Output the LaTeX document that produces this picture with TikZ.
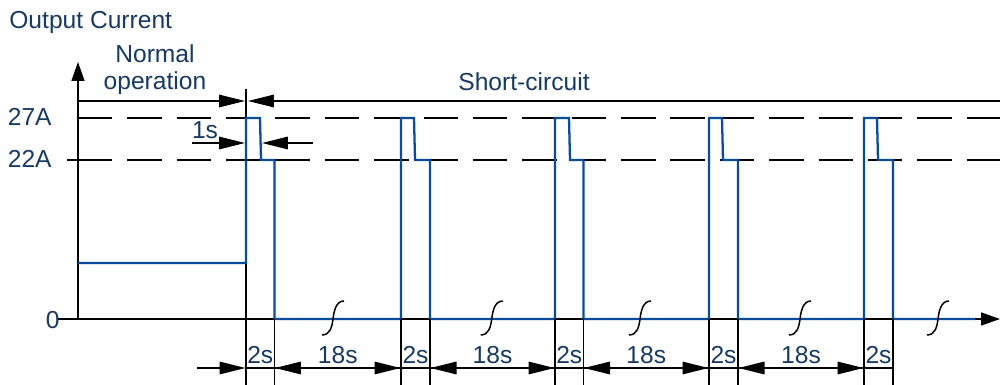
\documentclass[tikz,border=0pt]{standalone}
\usepackage{fontspec}
\setmainfont{Liberation Sans}
\usetikzlibrary{arrows.meta}
\definecolor{txtnavy}{HTML}{173A64}
\definecolor{wave}{HTML}{0A4C9C}
\begin{document}
\begin{tikzpicture}[x=0.02cm,y=-0.02cm,
  lbl/.style={font=\fontsize{14}{16}\selectfont,text=txtnavy,inner sep=0pt},
  blk/.style={line width=0.85pt,black},
  dsh/.style={line width=0.85pt,black,dash pattern=on 19.6pt off 8.5pt},
  wv/.style={line width=1.3pt,wave,line join=miter},
  tip/.style={-{Triangle[length=0.52cm,width=0.25cm]}},
  tips/.style={{Triangle[length=0.52cm,width=0.25cm]}-{Triangle[length=0.52cm,width=0.25cm]}},
  axtip/.style={-{Triangle[length=0.38cm,width=0.26cm]}},
  sq/.style={line width=0.85pt,black}
]
\useasboundingbox (0,0) rectangle (1000,385);
% coordinates
\coordinate (O) at (78,319);
\coordinate (Ytop) at (78,62);
\coordinate (Xl) at (57,319);
\coordinate (Xr) at (1000,319);
% axes
\draw[blk,axtip] (O) -- (Ytop);
\draw[blk,axtip] (Xl) -- (Xr);
% dashed level lines
\coordinate (d27a) at (78,118); \coordinate (d27b) at (1000,118);
\coordinate (d22s) at (67,160); \coordinate (d22a) at (78,160); \coordinate (d22b) at (1000,160);
\draw[dsh] (d27a) -- (d27b);
\draw[blk] (d22s) -- (d22a);
\draw[dsh] (d22a) -- (d22b);
% top region arrows
\coordinate (tick1) at (246,89);
\coordinate (tick2) at (246,385);
\draw[blk] (tick1) -- (tick2);
\coordinate (nA) at (78,101); \coordinate (nB) at (245,101);
\coordinate (sA) at (1000,101); \coordinate (sB) at (248,101);
\draw[blk,tip] (nA) -- (nB);
\draw[blk,tip] (sA) -- (sB);
\coordinate (oA) at (192,143); \coordinate (oB) at (245,143);
\coordinate (oC) at (313,143); \coordinate (oD) at (262,143);
\draw[blk,tip] (oA) -- (oB);
\draw[blk,tip] (oC) -- (oD);
% labels
\node[lbl,anchor=base west] (tOut) at (9,29) {Output Current};
\node[lbl,anchor=base] (tNorm1) at (155,63) {Normal};
\node[lbl,anchor=base] (tNorm2) at (155,90) {operation};
\node[lbl,anchor=base] (tShort) at (524,91) {Short-circuit};
\node[lbl,anchor=base east] (t27) at (52,125) {27A};
\node[lbl,anchor=base east] (t22) at (52,167) {22A};
\node[lbl,anchor=base east] (t0) at (60,328) {0};
\node[lbl,anchor=base] (t1s) at (205,138) {1s};
% waveform
\draw[wv] (78,263) -- (246,263) -- (246,118) -- (260,118) -- (261,160) -- (274.5,160) -- (274.5,319)
  -- (401,319) -- (401,118) -- (414,118) -- (415,160) -- (430,160) -- (430,319)
  -- (555,319) -- (555,118) -- (569,118) -- (570,160) -- (583.5,160) -- (583.5,319)
  -- (709,319) -- (709,118) -- (722,118) -- (723,160) -- (738,160) -- (738,319)
  -- (864,319) -- (864,118) -- (877,118) -- (878,160) -- (893,160) -- (893,319)
  -- (975,319);
% vertical dimension lines
\foreach \x in {274.5,401,430,555,583.5,709,738,864,893}{
  \draw[blk] (\x,319) -- (\x,385);
}
% dimension row
\coordinate (dA) at (197,368); \coordinate (dB) at (245.5,368);
\draw[blk,tip] (dA) -- (dB);
\draw[blk] (246,368) -- (893,368);
\foreach \a/\b in {274.5/401,430/555,583.5/709,738/864}{
  \draw[blk,tips] (\a+0.5,368) -- (\b-0.5,368);
}
% dimension labels
\foreach \a/\b [count=\i] in {246/274.5,401/430,555/583.5,709/738,864/893}{
  \node[lbl,anchor=base] (two\i) at ({(\a+\b)/2},363) {2s};
}
\foreach \a/\b [count=\i] in {274.5/401,430/555,583.5/709,738/864}{
  \node[lbl,anchor=base] (eig\i) at ({(\a+\b)/2},363) {18s};
}
% break marks
\foreach \c in {333,491.7,640,800,938}{
  \draw[sq] (\c-11,335) .. controls (\c-3,335) and (\c-1,327) .. (\c,319)
    .. controls (\c+1,311) and (\c+3,301) .. (\c+11,301);
}
\end{tikzpicture}
\end{document}
